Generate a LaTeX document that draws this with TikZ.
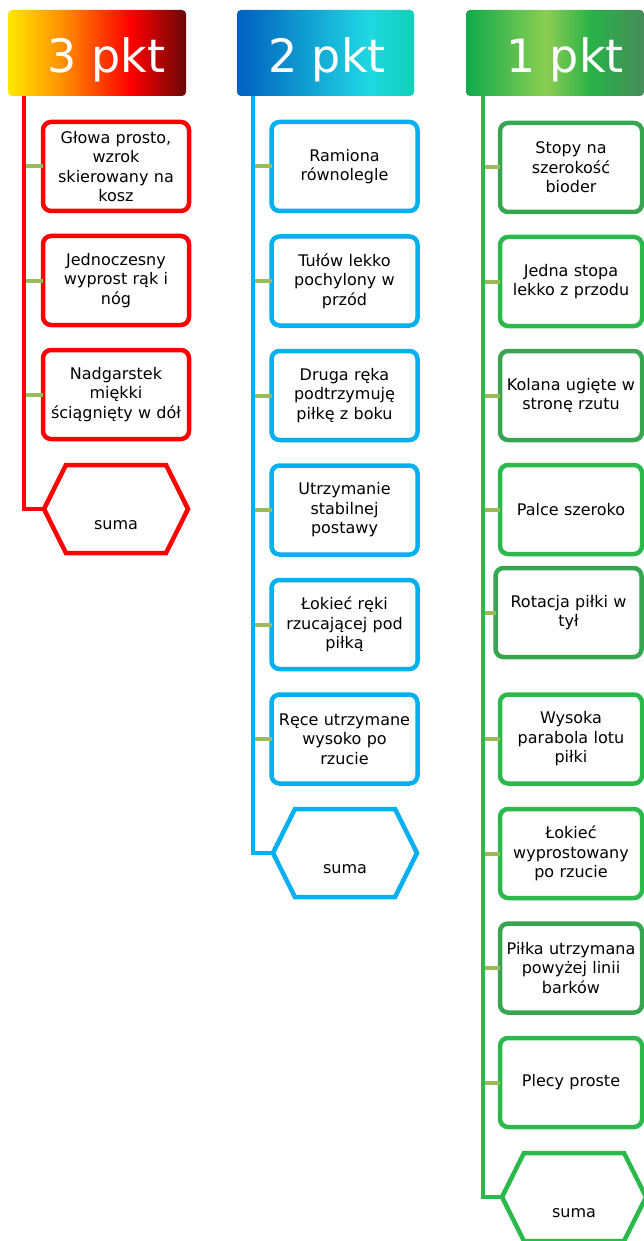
\documentclass[tikz,border=0pt]{standalone}
\usepackage{fontspec}
\setmainfont{DejaVu Sans}
\usetikzlibrary{positioning, shapes.symbols}
\definecolor{myred}{RGB}{255,0,0}
\definecolor{myblue}{RGB}{0,176,240}
\definecolor{mygreen}{RGB}{44,185,75}
\definecolor{mydkgreen}{RGB}{55,165,82}
\definecolor{myolive}{RGB}{155,187,89}
% header gradient colours
\definecolor{gyellow}{RGB}{255,232,0}
\definecolor{gorange}{RGB}{255,145,0}
\definecolor{gred}{RGB}{255,0,0}
\definecolor{gdkred}{RGB}{105,8,8}
\definecolor{gdkblue}{RGB}{0,96,192}
\definecolor{gcyan}{RGB}{32,216,226}
\definecolor{gteal}{RGB}{14,208,184}
\definecolor{ggreenA}{RGB}{15,170,75}
\definecolor{glime}{RGB}{140,206,82}
\definecolor{ggreenB}{RGB}{40,178,72}
\definecolor{gdkgreen}{RGB}{70,140,90}
\pgfdeclarehorizontalshading{gradthree}{100bp}{color(0bp)=(gyellow); color(25bp)=(gyellow); color(40bp)=(gorange); color(59.5bp)=(gred); color(75bp)=(gdkred); color(100bp)=(gdkred)}
\pgfdeclarehorizontalshading{gradtwo}{100bp}{color(0bp)=(gdkblue); color(25bp)=(gdkblue); color(62.5bp)=(gcyan); color(75bp)=(gteal); color(100bp)=(gteal)}
\pgfdeclarehorizontalshading{gradone}{100bp}{color(0bp)=(ggreenA); color(25bp)=(ggreenA); color(47.5bp)=(glime); color(60bp)=(ggreenB); color(75bp)=(gdkgreen); color(100bp)=(gdkgreen)}

\begin{document}
\begin{tikzpicture}[x=1pt, y=-1pt,
    hdr/.style={rounded corners=4pt, minimum width=178pt, minimum height=86pt, inner sep=0pt, shade},
    hdrtxt/.style={text=white, font=\fontsize{46}{50}\selectfont, inner sep=0pt, anchor=base},
    item/.style={draw=#1, line width=4.5pt, fill=white, rounded corners=8pt,
                 minimum width=146pt, minimum height=89pt, text width=140pt, align=center,
                 inner sep=0pt, outer sep=0pt, font=\fontsize{16}{19.5}\selectfont},
    stub/.style={draw=myolive, line width=4pt},
    spine/.style={draw=#1, line width=4pt},
    sumbox/.style={draw=#1, line width=4.5pt, fill=white, signal, signal to=west and east,
                   signal pointer angle=127, minimum width=144pt, minimum height=88pt,
                   inner sep=0pt, outer sep=0pt},
    sumtxt/.style={font=\fontsize{16}{19.5}\selectfont, inner sep=0pt}]
    \useasboundingbox (0,0) rectangle (644,1241);
    \clip (0,0) rectangle (644,1241);

    % Headers
    \node[hdr, shading=gradthree] (h3) at (97,53) {};
    \node[hdr, shading=gradtwo, minimum width=177pt] (h2) at (325.5,53) {};
    \node[hdr, shading=gradone] (h1) at (555,53) {};
    \node[hdrtxt] (h3txt) at (106.5,73) {3 pkt};
    \node[hdrtxt] (h2txt) at (327,73) {2 pkt};
    \node[hdrtxt] (h1txt) at (565,73) {1 pkt};

    % Spine start points
    \coordinate (redspine) at (24,96);
    \coordinate (bluespine) at (253,96);
    \coordinate (greenspine) at (483,96);

    % 3 pkt column
    \node[item=myred] (r1) at (116,166.5) {G\l{}owa prosto,\\wzrok\\skierowany na\\kosz};
    \node[item=myred, below=25pt of r1] (r2) {Jednoczesny\\wyprost r\k{a}k i\\n\'og};
    \node[item=myred, below=25pt of r2] (r3) {Nadgarstek\\mi\k{e}kki\\\'sci\k{a}gni\k{e}ty w d\'o\l{}};
    \node[sumbox=myred] (rsum) at (116,509) {};
    \node[sumtxt] (rsumtxt) at ([yshift=-16pt]rsum.center) {suma};

    % 2 pkt column
    \node[item=myblue] (b1) at (344.5,166.5) {Ramiona\\r\'ownolegle};
    \node[item=myblue, below=25.5pt of b1] (b2) {Tu\l{}\'ow lekko\\pochylony w\\prz\'od};
    \node[item=myblue, below=25.5pt of b2] (b3) {Druga r\k{e}ka\\podtrzymuj\k{e}\\pi\l{}k\k{e} z boku};
    \node[item=myblue, below=25.5pt of b3] (b4) {Utrzymanie\\stabilnej\\postawy};
    \node[item=myblue, below=25.5pt of b4] (b5) {\L{}okie\'c r\k{e}ki\\rzucaj\k{a}cej pod\\pi\l{}k\k{a}};
    \node[item=myblue, below=25.5pt of b5] (b6) {R\k{e}ce utrzymane\\wysoko po\\rzucie};
    \node[sumbox=myblue] (bsum) at (345,853) {};
    \node[sumtxt] (bsumtxt) at ([yshift=-16pt]bsum.center) {suma};

    % 1 pkt column
    \node[item=mydkgreen, minimum width=142pt] (g1) at (571,167.5) {Stopy na\\szeroko\'s\'c\\bioder};
    \node[item=mygreen, minimum width=142pt, below=25pt of g1] (g2) {Jedna stopa\\lekko z przodu};
    \node[item=mydkgreen, minimum width=142pt, below=25pt of g2] (g3) {Kolana ugi\k{e}te w\\stron\k{e} rzutu};
    \node[item=mygreen, minimum width=142pt, below=25pt of g3] (g4) {Palce szeroko};
    \node[item=mydkgreen] (g5) at (568.5,612.5) {Rotacja pi\l{}ki w\\ty\l{}};
    \node[item=mygreen, minimum width=142pt] (g6) at (571,739) {Wysoka\\parabola lotu\\pi\l{}ki};
    \node[item=mygreen, minimum width=142pt, below=25.5pt of g6] (g7) {\L{}okie\'c\\wyprostowany\\po rzucie};
    \node[item=mydkgreen, minimum width=142pt, below=25.5pt of g7] (g8) {Pi\l{}ka utrzymana\\powy\.zej linii\\bark\'ow};
    \node[item=mygreen, minimum width=142pt, below=25.5pt of g8] (g9) {Plecy proste};
    \node[sumbox=mygreen] (gsum) at (574,1197) {};
    \node[sumtxt] (gsumtxt) at ([yshift=-16pt]gsum.center) {suma};

    % Stubs
    \foreach \n in {r1,r2,r3}
        \draw[stub] (\n.west) -- (\n.west -| redspine);
    \foreach \n in {b1,b2,b3,b4,b5,b6}
        \draw[stub] (\n.west) -- (\n.west -| bluespine);
    \foreach \n in {g1,g2,g3,g4,g5,g6,g7,g8,g9}
        \draw[stub] (\n.west) -- (\n.west -| greenspine);

    % Spines
    \draw[spine=myred] (redspine) |- (rsum.west);
    \draw[spine=myblue] (bluespine) |- (bsum.west);
    \draw[spine=mygreen] (greenspine) |- (gsum.west);
\end{tikzpicture}
\end{document}
